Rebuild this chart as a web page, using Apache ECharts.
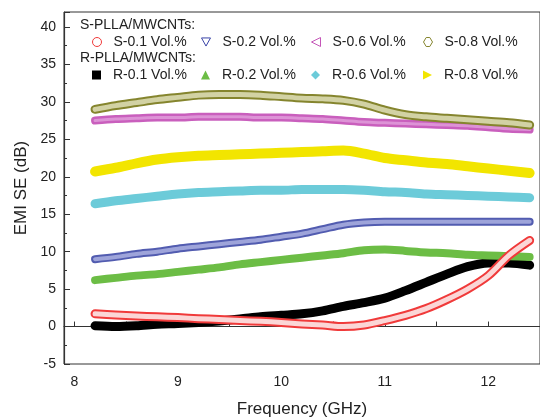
<!DOCTYPE html>
<html>
<head>
<meta charset="utf-8">
<title>EMI SE</title>
<script src="https://cdn.jsdelivr.net/npm/echarts@6/dist/echarts.min.js"></script>
<style>
html, body { margin: 0; padding: 0; background: #fff; }
#main { width: 540px; height: 420px; }
</style>
</head>
<body>
<div id="main"></div>
<script>
// frequency points (GHz)
var freq = [8.2, 8.4, 8.6, 8.8, 9.0, 9.2, 9.4, 9.6, 9.8, 10.0, 10.2, 10.4, 10.6, 10.8, 11.0, 11.2, 11.4, 11.6, 11.8, 12.0, 12.2, 12.4];

// S-PLLA/MWCNTs
var s01 = [1.7, 1.55, 1.4, 1.3, 1.2, 1.05, 0.95, 0.8, 0.7, 0.55, 0.35, 0.2, 0.0, 0.2, 0.8, 1.5, 2.4, 3.6, 5.0, 6.8, 9.5, 11.5];
var s02 = [9.0, 9.3, 9.7, 10.0, 10.4, 10.7, 11.0, 11.3, 11.6, 12.0, 12.4, 13.0, 13.6, 13.9, 14.0, 14.0, 14.0, 14.0, 14.0, 14.0, 14.0, 14.0];
var s06 = [27.5, 27.7, 27.8, 27.9, 27.9, 28.0, 28.0, 28.0, 27.9, 27.9, 27.8, 27.7, 27.5, 27.3, 27.2, 27.1, 27.0, 26.9, 26.8, 26.6, 26.4, 26.3];
var s08 = [29.0, 29.5, 29.9, 30.3, 30.6, 30.9, 31.0, 31.0, 30.9, 30.7, 30.5, 30.4, 30.2, 29.7, 28.9, 28.3, 28.0, 27.8, 27.6, 27.4, 27.2, 26.9];

// R-PLLA/MWCNTs
var r01 = [0.1, 0.0, 0.1, 0.3, 0.4, 0.55, 0.75, 1.0, 1.3, 1.5, 1.7, 2.1, 2.7, 3.2, 3.8, 4.8, 5.9, 7.0, 8.0, 8.5, 8.5, 8.2];
var r02 = [6.2, 6.5, 6.8, 7.0, 7.3, 7.6, 7.9, 8.3, 8.6, 8.9, 9.2, 9.5, 9.8, 10.2, 10.3, 10.1, 9.9, 9.8, 9.6, 9.5, 9.4, 9.3];
var r06 = [16.4, 16.8, 17.1, 17.4, 17.7, 17.9, 18.0, 18.1, 18.2, 18.2, 18.3, 18.3, 18.3, 18.2, 18.0, 17.9, 17.7, 17.6, 17.5, 17.4, 17.3, 17.2];
var r08 = [20.7, 21.2, 21.8, 22.3, 22.6, 22.8, 22.9, 23.0, 23.1, 23.2, 23.3, 23.4, 23.5, 23.1, 22.5, 22.2, 21.9, 21.7, 21.4, 21.1, 20.8, 20.5];

var sNames = ['S-0.1 Vol.%', 'S-0.2 Vol.%', 'S-0.6 Vol.%', 'S-0.8 Vol.%'];
var rNames = ['R-0.1 Vol.%', 'R-0.2 Vol.%', 'R-0.6 Vol.%', 'R-0.8 Vol.%'];
var groupTitles = ['S-PLLA/MWCNTs:', 'R-PLLA/MWCNTs:'];

var FONT = 'Liberation Sans, Arial, sans-serif';

function pairs(ys) {
    var out = [];
    for (var i = 0; i < freq.length; i++) out.push([freq[i], ys[i]]);
    return out;
}

// thick band that stands in for the dense run of markers
function band(name, ys, color, width, z) {
    return {
        name: name,
        type: 'line',
        data: pairs(ys),
        smooth: 0.3,
        showSymbol: false,
        symbol: 'none',
        z: z,
        lineStyle: { color: color, width: width, cap: 'round', join: 'round' },
        itemStyle: { color: color },
        emphasis: { disabled: true },
        silent: true
    };
}

var series = [
    band(rNames[0], r01, '#000000', 9, 2),
    band(rNames[1], r02, '#6cbd45', 8, 2),
    band(rNames[2], r06, '#6ccbd9', 9, 2),
    band(rNames[3], r08, '#f2e500', 10, 2),
    band(sNames[2], s06, '#c95fbd', 8, 3),
    band(sNames[2] + ' in', s06, '#dd93d6', 3, 3),
    band(sNames[3], s08, '#85852e', 9, 4),
    band(sNames[3] + ' in', s08, '#d2d2a4', 5, 4),
    band(sNames[1], s02, '#525cb0', 8, 3),
    band(sNames[1] + ' in', s02, '#9ea4da', 4, 3),
    band(sNames[0], s01, '#f03a3a', 9, 5),
    band(sNames[0] + ' in', s01, '#fbd6d6', 5, 5)
];

// legend icons
var sIcons = [
    { icon: 'circle', color: '#f03a3a' },
    { icon: 'path://M0,0L10,0L5,9Z', color: '#3a44a8' },
    { icon: 'path://M10,0L10,10L0,5Z', color: '#c455b8' },
    { icon: 'path://M3,0L7,0L10,5L7,10L3,10L0,5Z', color: '#85852e' }
];
var rIcons = [
    { icon: 'rect', color: '#000000' },
    { icon: 'triangle', color: '#6cbd45' },
    { icon: 'diamond', color: '#6ccbd9' },
    { icon: 'path://M0,0L10,5L0,10Z', color: '#f2e500' }
];
var legendLeft = [92, 201, 311, 423];

var legends = [];
for (var i = 0; i < 4; i++) {
    legends.push({
        left: legendLeft[i], top: 35, padding: 0,
        itemWidth: 9, itemHeight: 9,
        selectedMode: false,
        textStyle: { fontFamily: FONT, fontSize: 14, color: '#222', padding: [0, 0, 0, 7] },
        data: [{ name: sNames[i], icon: sIcons[i].icon,
                 itemStyle: { color: '#fff', borderColor: sIcons[i].color, borderWidth: 1 } }]
    });
    legends.push({
        left: legendLeft[i], top: 68, padding: 0,
        itemWidth: 9, itemHeight: 9,
        selectedMode: false,
        textStyle: { fontFamily: FONT, fontSize: 14, color: '#222', padding: [0, 0, 0, 7] },
        data: [{ name: rNames[i], icon: rIcons[i].icon,
                 itemStyle: { color: rIcons[i].color, borderWidth: 0 } }]
    });
}

var chart = echarts.init(document.getElementById('main'));
chart.setOption({
    animation: false,
    backgroundColor: '#fff',
    grid: {
        left: 64, top: 12, right: 0, bottom: 56,
        outerBoundsMode: 'none', containLabel: false,
        show: true, borderColor: '#333', borderWidth: 1
    },
    legend: legends,
    graphic: [
        { type: 'text', left: 80, top: 18, style: { text: groupTitles[0], font: '14px ' + FONT, fill: '#222' } },
        { type: 'text', left: 80, top: 51, style: { text: groupTitles[1], font: '14px ' + FONT, fill: '#222' } }
    ],
    xAxis: {
        type: 'value',
        min: 7.9, max: 12.5,
        splitNumber: 9,
        name: 'Frequency (GHz)',
        nameLocation: 'middle',
        nameGap: 37,
        nameTextStyle: { fontFamily: FONT, fontSize: 17, color: '#222' },
        axisLine: { lineStyle: { color: '#333', width: 1.2 } },
        axisTick: { inside: true, length: 5, lineStyle: { color: '#333' } },
        axisLabel: {
            fontFamily: FONT, fontSize: 14, color: '#222', margin: 11,
            formatter: function (v) { return Math.abs(v - Math.round(v)) < 1e-6 ? String(Math.round(v)) : ''; }
        },
        splitLine: { show: false }
    },
    yAxis: {
        type: 'value',
        min: -5, max: 42, interval: 5,
        name: 'EMI SE (dB)',
        nameLocation: 'middle',
        nameGap: 31,
        nameTextStyle: { fontFamily: FONT, fontSize: 17, color: '#222' },
        axisLine: { show: true, lineStyle: { color: '#333', width: 1.2 } },
        axisTick: { show: true, inside: true, length: 6, lineStyle: { color: '#333' } },
        minorTick: { show: true, splitNumber: 2, length: 3, lineStyle: { color: '#333' } },
        axisLabel: { fontFamily: FONT, fontSize: 14, color: '#222', margin: 8, showMaxLabel: false },
        splitLine: { show: false }
    },
    series: series
});
</script>
</body>
</html>
